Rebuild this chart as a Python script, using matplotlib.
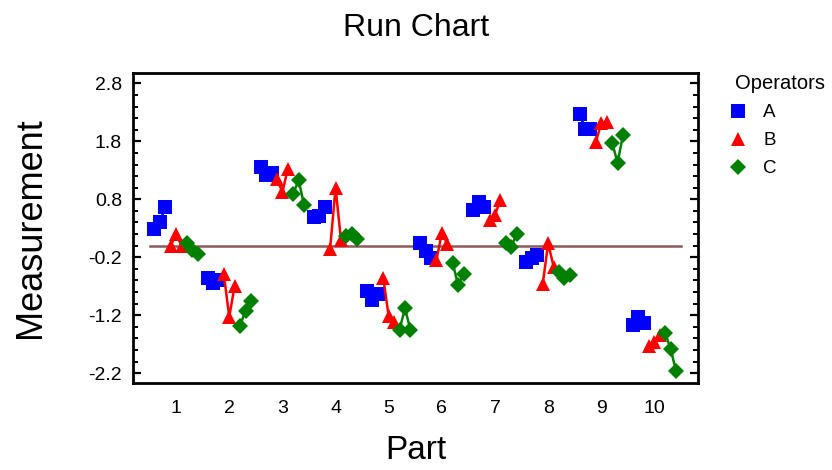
import matplotlib
matplotlib.use("Agg")
import matplotlib.pyplot as plt
import numpy as np

plt.rcParams['font.family'] = ['Liberation Sans', 'DejaVu Sans']

parts = [1, 2, 3, 4, 5, 6, 7, 8, 9, 10]
operators = ["A", "B", "C"]

op_A = [[0.28, 0.41, 0.66], [-0.55, -0.65, -0.60], [1.35, 1.22, 1.25], [0.50, 0.52, 0.66],
        [-0.78, -0.94, -0.83], [0.05, -0.10, -0.22], [0.62, 0.76, 0.66], [-0.29, -0.22, -0.16],
        [2.28, 2.02, 2.02], [-1.37, -1.23, -1.33]]
op_B = [[0.00, 0.20, 0.00], [-0.49, -1.23, -0.69], [1.15, 0.92, 1.33], [-0.05, 1.00, 0.10],
        [-0.56, -1.22, -1.32], [-0.25, 0.22, 0.03], [0.44, 0.53, 0.79], [-0.66, 0.04, -0.36],
        [1.79, 2.12, 2.14], [-1.74, -1.66, -1.54]]
op_C = [[0.04, -0.07, -0.14], [-1.38, -1.12, -0.95], [0.90, 1.13, 0.70], [0.16, 0.21, 0.11],
        [-1.45, -1.08, -1.45], [-0.30, -0.68, -0.49], [0.04, -0.02, 0.21], [-0.45, -0.55, -0.51],
        [1.78, 1.43, 1.91], [-1.51, -1.79, -2.17]]

y_ticks = [-2.2, -1.2, -0.2, 0.8, 1.8, 2.8]

series = [op_A, op_B, op_C]
colors = ["#0000FF", "#FF0000", "#008000"]
markers = ["s", "^", "D"]
msizes = [9.5, 10, 8.2]

fig = plt.figure(figsize=(8.32, 4.70), dpi=100)
ax = fig.add_axes([0.1599, 0.1851, 0.6791, 0.6596])

step = 0.102
for k, (vals, col, mk, ms, name) in enumerate(zip(series, colors, markers, msizes, operators)):
    for i, p in enumerate(parts):
        xs = [p + (3 * k + j - 4) * step for j in range(3)]
        ax.plot(xs, vals[i], color=col, marker=mk, markersize=ms, lw=1.8,
                markeredgewidth=0, label=name if i == 0 else None, zorder=3 + k)

allv = np.concatenate([np.ravel(s) for s in series])
ax.plot([0.5, 10.5], [allv.mean(), allv.mean()], color="#8c5a5a", lw=1.8, zorder=2)

ax.set_xlim(0.19, 10.82)
ax.set_ylim(-2.37, 2.98)
ax.set_xticks(parts)
ax.set_xticklabels([str(p) for p in parts])
ax.set_yticks(y_ticks)
ax.set_yticklabels([f"{t:.1f}" for t in y_ticks])
ax.set_yticks(np.arange(-2.2, 2.81, 0.2), minor=True)

ax.tick_params(axis='y', which='major', direction='in', length=6, width=1.6,
               left=True, right=True, labelsize=14, pad=8)
ax.tick_params(axis='y', which='minor', direction='in', length=3.6, width=1.4,
               left=True, right=True)
ax.tick_params(axis='x', which='both', length=0, labelsize=14, pad=12.5)
for s in ax.spines.values():
    s.set_linewidth(2)
    s.set_color('black')

ax.set_xlabel("Part", fontsize=24, labelpad=13)
ax.set_ylabel("Measurement", fontsize=26, labelpad=29)
fig.text(0.5, 0.94, "Run Chart", ha='center', va='center', fontsize=23)

leg = ax.legend(loc='upper left', bbox_to_anchor=(0.8834, 0.8415), bbox_transform=fig.transFigure,
                frameon=False, title="Operators", fontsize=13.5, title_fontsize=14.5,
                alignment='left', handlelength=0.3, handletextpad=1.2, labelspacing=0.58,
                borderpad=0, borderaxespad=0)
for h in leg.legend_handles:
    h.set_linestyle('None')

fig.savefig("out.png", dpi=100)
